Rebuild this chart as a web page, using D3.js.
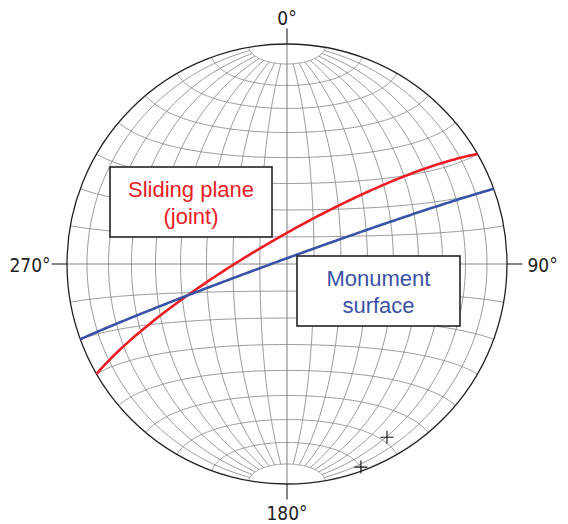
<!DOCTYPE html>
<html>
<head>
<meta charset="utf-8">
<script src="https://cdn.jsdelivr.net/npm/d3@7"></script>
<style>
  body { margin: 0; background: #fff; }
  svg { display: block; }
</style>
</head>
<body>
<svg id="chart" width="568" height="524"></svg>
<script>
// piani misurati (dip direction / dip)
const planeNames = ["Sliding plane (joint)", "Monument surface"];
const dipDirections = [330, 340];
const dips = [80, 88];
const planeColors = ["#ec1c24", "#3a52a5"];
const planeLabels = [["Sliding plane", "(joint)"], ["Monument", "surface"]];

// reticolo di Schmidt (equal-area), asse polare N-S
const meridianDips = [10, 20, 30, 40, 50, 60, 70, 80];
const smallCircleAngles = [10, 20, 30, 40, 50, 60, 70, 80, 100, 110, 120, 130, 140, 150, 160, 170];
const directionAzimuths = [0, 90, 180, 270];
const directionLabels = ["0°", "90°", "180°", "270°"];

const cx = 287, cy = 264, R = 220;
const rad = Math.PI / 180;

const svg = d3.select("#chart");
const x = d3.scaleLinear().domain([-1, 1]).range([cx - R, cx + R]);
const y = d3.scaleLinear().domain([-1, 1]).range([cy + R, cy - R]);

// proiezione equal-area di un versore (E, N, Down), emisfero inferiore
function project(v) {
  const k = 1 / Math.sqrt(1 + v[2]);
  return [v[0] * k, v[1] * k];
}

const line = d3.line().x((d) => x(d[0])).y((d) => y(d[1]));

// vettori sul piano: strike + dip
function planePoints(dd, dip, from, to) {
  const s = (dd - 90) * rad;
  const sv = [Math.sin(s), Math.cos(s), 0];
  const dv = [Math.cos(dip * rad) * Math.sin(dd * rad), Math.cos(dip * rad) * Math.cos(dd * rad), Math.sin(dip * rad)];
  return d3.range(from, to + 0.001, 1).map((phi) => {
    const c = Math.cos(phi * rad), sn = Math.sin(phi * rad);
    return project([c * sv[0] + sn * dv[0], c * sv[1] + sn * dv[1], c * sv[2] + sn * dv[2]]);
  });
}

function smallCirclePoints(alpha) {
  const ca = Math.cos(alpha * rad), sa = Math.sin(alpha * rad);
  return d3.range(0, 180.001, 1).map((b) =>
    project([sa * Math.cos(b * rad), ca, sa * Math.sin(b * rad)])
  );
}

const grid = svg.append("g")
  .attr("fill", "none")
  .attr("stroke", "#8f8f8f")
  .attr("stroke-width", 0.9);

// meridiani (fermati a 10° dai poli)
meridianDips.forEach((d) => {
  [90, 270].forEach((side) => {
    grid.append("path").attr("d", line(planePoints(side, d, 10, 170)));
  });
});

// piccoli cerchi
smallCircleAngles.forEach((a) => {
  grid.append("path").attr("d", line(smallCirclePoints(a)));
});

// assi con tacche
const axes = svg.append("g").attr("stroke", "#888").attr("stroke-width", 1.1);
axes.append("line").attr("x1", x(0)).attr("x2", x(0)).attr("y1", y(1)).attr("y2", y(-1));
axes.append("line").attr("x1", x(-1)).attr("x2", x(1)).attr("y1", y(0)).attr("y2", y(0));
const ticks = svg.append("g").attr("stroke", "#222").attr("stroke-width", 1.1);
directionAzimuths.forEach((az) => {
  const s = Math.sin(az * rad), c = Math.cos(az * rad);
  ticks.append("line")
    .attr("x1", x(s)).attr("y1", y(c))
    .attr("x2", x(s * 1.07)).attr("y2", y(c * 1.07));
});

// primitiva
svg.append("circle")
  .attr("cx", x(0)).attr("cy", y(0)).attr("r", x(1) - x(0))
  .attr("fill", "none").attr("stroke", "#222").attr("stroke-width", 1.3);

// etichette direzioni
const lbl = svg.append("g")
  .attr("font-family", "'DejaVu Sans Condensed', 'DejaVu Sans', sans-serif")
  .attr("font-size", 19)
  .attr("fill", "#222");
directionAzimuths.forEach((az, i) => {
  const t = lbl.append("text").text(directionLabels[i]);
  if (az === 0) t.attr("x", x(0)).attr("y", y(1.07) - 4).attr("text-anchor", "middle");
  if (az === 180) t.attr("x", x(0)).attr("y", y(-1.07) + 21).attr("text-anchor", "middle");
  if (az === 90) t.attr("x", x(1.07) + 5).attr("y", y(0) + 8).attr("text-anchor", "start");
  if (az === 270) t.attr("x", x(-1.07) - 1).attr("y", y(0) + 8).attr("text-anchor", "end");
});

// cerchi massimi dei piani
dipDirections.forEach((dd, i) => {
  svg.append("path")
    .attr("d", line(planePoints(dd, dips[i], 0, 180)))
    .attr("fill", "none")
    .attr("stroke", planeColors[i])
    .attr("stroke-width", 2.6);
});

// poli dei piani (+)
dipDirections.forEach((dd, i) => {
  const trend = (dd + 180) * rad, plunge = (90 - dips[i]) * rad;
  const p = project([Math.cos(plunge) * Math.sin(trend), Math.cos(plunge) * Math.cos(trend), Math.sin(plunge)]);
  const px = x(p[0]), py = y(p[1]);
  svg.append("path")
    .attr("d", `M${px - 6.5},${py}H${px + 6.5}M${px},${py - 6.5}V${py + 6.5}`)
    .attr("stroke", "#111").attr("stroke-width", 1.1);
});

// riquadri con etichette
const boxes = [
  { x: 110, y: 167, w: 162, h: 70 },
  { x: 297, y: 256, w: 163, h: 70 },
];
boxes.forEach((b, i) => {
  svg.append("rect")
    .attr("x", b.x).attr("y", b.y).attr("width", b.w).attr("height", b.h)
    .attr("fill", "#fff").attr("stroke", "#222").attr("stroke-width", 1.6);
  planeLabels[i].forEach((t, j) => {
    svg.append("text")
      .attr("x", b.x + b.w / 2)
      .attr("y", b.y + 30 + j * 26.5)
      .attr("text-anchor", "middle")
      .attr("font-family", "'Liberation Sans', Arial, sans-serif")
      .attr("font-size", 22)
      .attr("fill", planeColors[i])
      .text(t);
  });
});
</script>
</body>
</html>
